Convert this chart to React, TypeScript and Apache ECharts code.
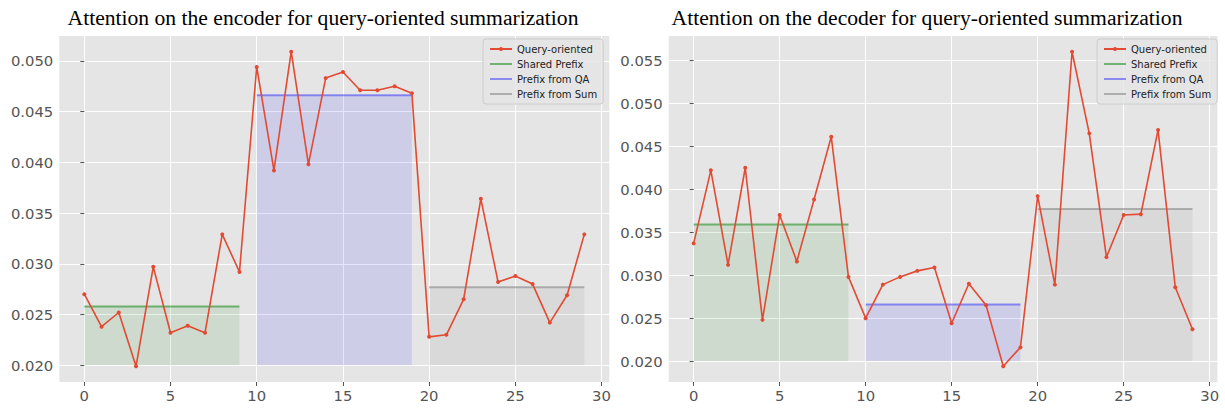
import React, { useEffect, useRef } from "react";
import * as echarts from "echarts";

const positions = Array.from({ length: 30 }, (_, i) => i);

const encoderValues = [
  0.0270, 0.0238, 0.0252, 0.0199, 0.0297, 0.0232, 0.0239, 0.0232, 0.0329, 0.0292,
  0.0494, 0.0392, 0.0509, 0.0398, 0.0483, 0.0489, 0.0471, 0.0471, 0.0475, 0.0468,
  0.0228, 0.0230, 0.0265, 0.0364, 0.0282, 0.0288, 0.0280, 0.0242, 0.0269, 0.0329,
];
const encoderMeans = [0.0258, 0.0466, 0.0277];

const decoderValues = [
  0.0337, 0.0422, 0.0312, 0.0425, 0.0248, 0.0370, 0.0316, 0.0388, 0.0461, 0.0298,
  0.0250, 0.0289, 0.0298, 0.0305, 0.0309, 0.0244, 0.0290, 0.0265, 0.0194, 0.0216,
  0.0392, 0.0289, 0.0560, 0.0465, 0.0321, 0.0370, 0.0371, 0.0469, 0.0286, 0.0237,
];
const decoderMeans = [0.0359, 0.0266, 0.0377];

const segments = [
  [0, 9],
  [10, 19],
  [20, 29],
];
const segmentNames = ["Shared Prefix", "Prefix from QA", "Prefix from Sum"];
const legendNames = ["Query-oriented", ...segmentNames];
const titles = [
  "Attention on the encoder for query-oriented summarization",
  "Attention on the decoder for query-oriented summarization",
];
const xTicks = [0, 5, 10, 15, 20, 25, 30];
const encoderYTicks = [0.02, 0.025, 0.03, 0.035, 0.04, 0.045, 0.05];
const decoderYTicks = [0.02, 0.025, 0.03, 0.035, 0.04, 0.045, 0.05, 0.055];
const areaBase = 0.02;

const segLineColors = ["rgba(0,128,0,0.5)", "rgba(0,0,255,0.4)", "rgba(128,128,128,0.55)"];
const segFillColors = ["rgba(0,128,0,0.1)", "rgba(0,0,255,0.1)", "rgba(128,128,128,0.12)"];

const tickFont = "DejaVu Sans";

function padRange(vals: number[]) {
  const mn = Math.min(...vals);
  const mx = Math.max(...vals);
  const m = (mx - mn) * 0.05;
  return [mn - m, mx + m];
}

export default function App() {
  const ref = useRef<HTMLDivElement>(null);
  useEffect(() => {
    if (!ref.current) return;
    const chart = echarts.init(ref.current, undefined, { renderer: "svg" });
    const panels = [
      { values: encoderValues, means: encoderMeans, yTicks: encoderYTicks, left: 59.3, width: 550, titleX: 318, legendLeft: 483 },
      { values: decoderValues, means: decoderMeans, yTicks: decoderYTicks, left: 668.7, width: 548.7, titleX: 922, legendLeft: 1097 },
    ];
    const xr = padRange(positions);
    const series: any[] = [];
    panels.forEach((p, pi) => {
      p.means.forEach((m, si) => {
        series.push({
          type: "line",
          name: segmentNames[si],
          xAxisIndex: pi,
          yAxisIndex: pi,
          data: segments[si].map((x) => [x, m]),
          symbol: "none",
          lineStyle: { color: segLineColors[si], width: 2 },
          itemStyle: { color: segLineColors[si] },
          areaStyle: { origin: areaBase, color: segFillColors[si], opacity: 1 },
          z: 2,
        });
      });
      series.push({
        type: "line",
        name: legendNames[0],
        xAxisIndex: pi,
        yAxisIndex: pi,
        data: positions.map((x, i) => [x, p.values[i]]),
        symbol: "circle",
        symbolSize: 4,
        lineStyle: { color: "#E24A33", width: 1.6 },
        itemStyle: { color: "#E24A33" },
        z: 3,
      });
    });
    const legendData = legendNames.map((n, i) =>
      i === 0
        ? { name: n }
        : { name: n, itemStyle: { color: "rgba(0,0,0,0)", borderWidth: 0, opacity: 0 } }
    );
    chart.setOption({
      animation: false,
      backgroundColor: "#ffffff",
      title: panels.map((p, pi) => ({
        text: titles[pi],
        left: p.titleX,
        top: 2,
        textAlign: "center",
        textStyle: { fontFamily: "Liberation Serif", fontSize: 21.6, fontWeight: "normal", color: "#000" },
      })),
      legend: panels.map((p) => ({
        data: legendData,
        orient: "vertical",
        left: p.legendLeft,
        top: 39,
        itemWidth: 22,
        itemHeight: 5,
        itemGap: 3,
        padding: [4, 6, 4, 6],
        backgroundColor: "rgba(229,229,229,0.8)",
        borderColor: "#cccccc",
        borderWidth: 1,
        borderRadius: 3,
        selectedMode: false,
        textStyle: { fontFamily: tickFont, fontSize: 10, lineHeight: 12, color: "#222" },
      })),
      grid: panels.map((p) => ({
        left: p.left,
        width: p.width,
        top: 36,
        height: 346,
        backgroundColor: "#E5E5E5",
        show: true,
        borderWidth: 0,
      })),
      xAxis: panels.map((p, pi) => ({
        type: "value",
        gridIndex: pi,
        min: xr[0],
        max: xr[1],
        axisLine: { show: false },
        axisTick: { show: true, length: 4, lineStyle: { color: "#555" }, customValues: xTicks },
        axisLabel: { customValues: xTicks, color: "#555", fontFamily: tickFont, fontSize: 14.8, margin: 6, formatter: (v: number) => String(v) },
        splitLine: { show: true, lineStyle: { color: "#ffffff", width: 1 } },
      })),
      yAxis: panels.map((p, pi) => {
        const yr = padRange(p.values);
        return {
          type: "value",
          gridIndex: pi,
          min: yr[0],
          max: yr[1],
          axisLine: { show: false },
          axisTick: { show: true, length: 4, lineStyle: { color: "#555" }, customValues: p.yTicks },
          axisLabel: { customValues: p.yTicks, color: "#555", fontFamily: tickFont, fontSize: 14.8, margin: 6, formatter: (v: number) => v.toFixed(3) },
          splitLine: { show: true, lineStyle: { color: "#ffffff", width: 1 } },
        };
      }),
      series,
    });
    return () => chart.dispose();
  }, []);
  return (
    <div
      ref={ref}
      style={{ position: "absolute", left: 0, top: 0, width: 1225, height: 410 }}
    />
  );
}
